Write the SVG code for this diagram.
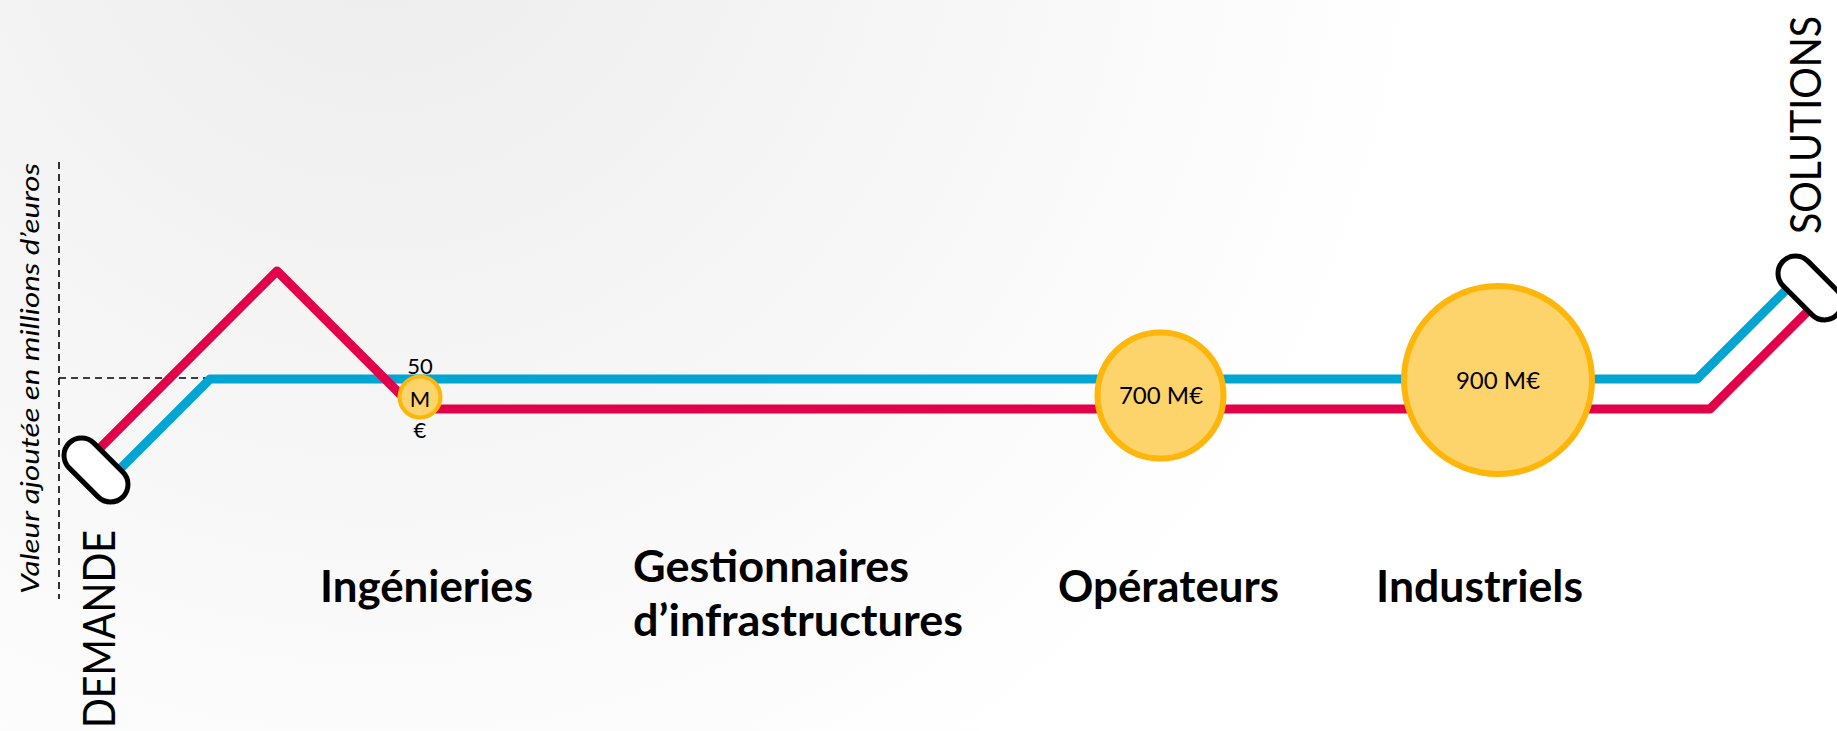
<svg xmlns="http://www.w3.org/2000/svg" width="1837" height="731" viewBox="0 0 1837 731">
<defs>
<radialGradient id="bg" gradientUnits="userSpaceOnUse" cx="380" cy="-120" r="1050">
<stop offset="0" stop-color="#ECECEC"/>
<stop offset="1" stop-color="#FFFFFF"/>
</radialGradient>
</defs>
<style>
.blue{fill:none;stroke:#00A5D1;stroke-width:9;stroke-linejoin:round}
.red{fill:none;stroke:#E3004B;stroke-width:9;stroke-linejoin:round}
.dash{fill:none;stroke:#000;stroke-width:1.6;stroke-dasharray:7 5}
.pill{fill:#FFFFFF;stroke:#000;stroke-width:5}
.coin{fill:#FDD36C;stroke:#FFB60A}
.lbl{font-family:Lato,"Open Sans","Liberation Sans",sans-serif;font-weight:bold;font-size:43px;fill:#000}
.txt{font-family:Lato,"Open Sans","Liberation Sans",sans-serif;fill:#000}
</style>
<rect x="0" y="0" width="1837" height="731" fill="url(#bg)"/>
<g id="connectors">
<path class="dash" d="M59,162 V599"/>
<path class="dash" d="M59,378 H212"/>
<path class="blue" d="M107.5,481.5 L210,379 H1697 L1799,277"/>
<path class="red" d="M87,461 L277,271 L415,409 H1710 L1820.5,298.5"/>
</g>
<g id="axis-label">
<text class="txt" transform="translate(39,594) rotate(-90)" font-size="25" font-style="italic" textLength="431" lengthAdjust="spacingAndGlyphs">Valeur ajoutée en millions d’euros</text>
</g>
<g id="demande">
<rect class="pill" x="58" y="452.5" width="76" height="35" rx="17.5" transform="rotate(45 96 470)"/>
<text class="txt" transform="translate(115,728) rotate(-90)" font-size="44" textLength="198" lengthAdjust="spacingAndGlyphs">DEMANDE</text>
</g>
<g id="solutions">
<rect class="pill" x="1772" y="270.5" width="76" height="35" rx="17.5" transform="rotate(45 1810 288)"/>
<text class="txt" transform="translate(1821,234) rotate(-90)" font-size="43" textLength="218" lengthAdjust="spacingAndGlyphs">SOLUTIONS</text>
</g>
<g id="ingenieries">
<circle class="coin" cx="420" cy="397" r="20.5" stroke-width="4"/>
<text class="txt" x="420" y="374" font-size="22" text-anchor="middle">50</text>
<text class="txt" x="420" y="407" font-size="22" text-anchor="middle">M</text>
<text class="txt" x="420" y="438" font-size="22" text-anchor="middle">€</text>
<text class="lbl" x="320" y="602" textLength="213" lengthAdjust="spacingAndGlyphs">Ingénieries</text>
</g>
<g id="gestionnaires">
<text class="lbl" x="633" y="582" textLength="276" lengthAdjust="spacingAndGlyphs">Gestionnaires</text>
<text class="lbl" x="633" y="636" textLength="330" lengthAdjust="spacingAndGlyphs">d’infrastructures</text>
</g>
<g id="operateurs">
<circle class="coin" cx="1160.5" cy="395.5" r="63" stroke-width="6"/>
<text class="txt" x="1161" y="404" font-size="24" text-anchor="middle">700 M€</text>
<text class="lbl" x="1058" y="602" textLength="221" lengthAdjust="spacingAndGlyphs">Opérateurs</text>
</g>
<g id="industriels">
<circle class="coin" cx="1498" cy="380" r="94" stroke-width="6"/>
<text class="txt" x="1498" y="389" font-size="24" text-anchor="middle">900 M€</text>
<text class="lbl" x="1376" y="602" textLength="207" lengthAdjust="spacingAndGlyphs">Industriels</text>
</g>
</svg>
